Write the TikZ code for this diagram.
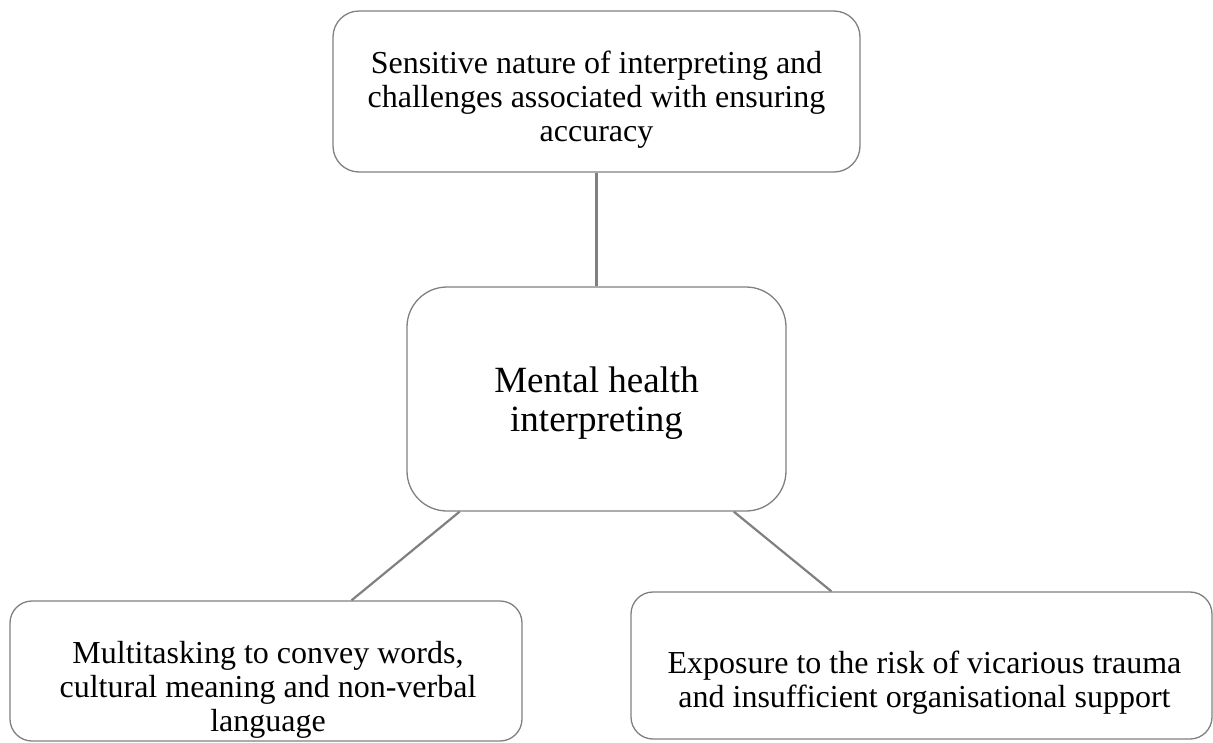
\documentclass[tikz,border=0pt]{standalone}
\usepackage{fontspec}
\setmainfont{Liberation Serif}
\definecolor{edgegray}{RGB}{128,128,128}
\begin{document}
\begin{tikzpicture}[x=1pt, y=-1pt,
  topic/.style={draw=edgegray, line width=1.3pt, fill=white, inner sep=0pt},
  caption/.style={align=center, inner sep=0pt, text=black,
    font=\fontsize{32}{34}\selectfont},
  hubcaption/.style={caption, font=\fontsize{37}{38.5}\selectfont},
  link/.style={draw=edgegray, line width=2.2pt}
]
\useasboundingbox (0,0) rectangle (1213,742);

% central theme
\node[topic, rounded corners=40pt, minimum width=379pt, minimum height=224pt,
  label={[hubcaption, yshift=-4pt]center:{Mental health\\interpreting}}]
  (mid) at (596.5,399) {};

% surrounding challenges
\node[topic, rounded corners=26pt, minimum width=527pt, minimum height=161pt,
  label={[caption, yshift=-8pt]center:{Sensitive nature of interpreting and\\challenges associated with ensuring\\accuracy}}]
  (top) at (596.5,91.5) {};
\node[topic, rounded corners=22pt, minimum width=512pt, minimum height=140pt,
  label={[caption, yshift=-19pt, xshift=2pt]center:{Multitasking to convey words,\\cultural meaning and non-verbal\\language}}]
  (left) at (266,671) {};
\node[topic, rounded corners=22pt, minimum width=581pt, minimum height=147pt,
  label={[caption, yshift=-17pt, xshift=3pt]center:{Exposure to the risk of vicarious trauma\\and insufficient organisational support}}]
  (right) at (921.5,665.5) {};

% connectors
\draw[link] (top) -- (mid);
\draw[link] (mid) -- (left);
\draw[link] (mid) -- (right);
\end{tikzpicture}
\end{document}
